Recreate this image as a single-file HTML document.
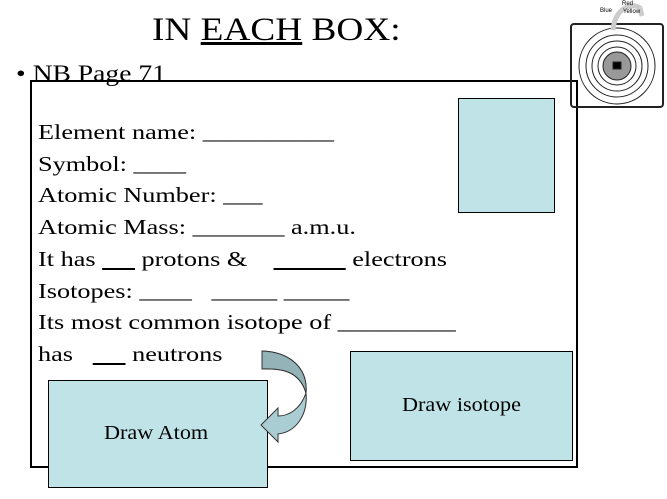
<!DOCTYPE html>
<html><head><style>
body{margin:0;width:667px;height:499px;background:#fff;position:relative;overflow:hidden;font-family:"Liberation Serif",serif;}
.t{position:absolute;white-space:nowrap;color:#000;transform-origin:0 0;}
.b{position:absolute;background:#bfe3e6;border:1px solid #000;box-sizing:border-box;}
</style></head><body>
<div class="t" style="left:152px;top:12px;font-size:33px;transform:scaleX(1.13);">IN <u>EACH</u> BOX:</div>
<div style="position:absolute;left:30px;top:80px;width:548px;height:388px;border:2px solid #000;box-sizing:border-box;"></div>
<div class="t" style="left:16px;top:61px;font-size:23px;transform:scaleX(1.2);">• NB Page 71</div>
<div class="b" style="left:458px;top:98px;width:97px;height:115px;"></div>
<div class="t" style="left:38px;top:117px;font-size:21px;line-height:31.7px;transform:scaleX(1.25);">
Element name: __________<br>Symbol: ____<br>Atomic Number: ___<br>Atomic Mass: _______ a.m.u.<br>It has <u>&nbsp;&nbsp;&nbsp;&nbsp;&nbsp;</u> protons &amp; &nbsp;&nbsp;&nbsp;<u>&nbsp;&nbsp;&nbsp;&nbsp;&nbsp;&nbsp;&nbsp;&nbsp;&nbsp;&nbsp;&nbsp;</u> electrons<br>Isotopes: ____ &nbsp;&nbsp;_____ _____<br>Its most common isotope of _________<br>has &nbsp;&nbsp;<u>&nbsp;&nbsp;&nbsp;&nbsp;&nbsp;</u> neutrons</div>
<div class="b" style="left:350px;top:351px;width:223px;height:110px;"></div>
<div class="t" style="left:402px;top:394px;font-size:20px;transform:scaleX(1.11);">Draw isotope</div>
<div class="b" style="left:48px;top:380px;width:220px;height:108px;"></div>
<div class="t" style="left:104px;top:422px;font-size:20px;transform:scaleX(1.11);">Draw Atom</div>
<svg style="position:absolute;left:0;top:0" width="667" height="499">
<path d="M262,351 C290,352 308,368 306,393 C300,410 288,416 278,416 L278,408 L261,425 L278,442 L278,434 C296,432 308,415 306,393 C300,373 285,368 262,369 Z" fill="#a9cdd2" stroke="#333" stroke-width="1"/>
<path d="M262,351 C290,352 308,368 306,393 C300,373 285,368 262,369 Z" fill="#93b3b8" stroke="#333" stroke-width="1"/>
<g transform="translate(570,22)" fill="none" stroke="#222">
<rect x="1" y="2" width="92" height="83" rx="3" stroke-width="2"/>
<circle cx="47" cy="44" r="38"/><circle cx="47" cy="44" r="31"/><circle cx="47" cy="44" r="25"/><circle cx="47" cy="44" r="19"/>
<circle cx="47" cy="44" r="14" fill="#999"/>
<rect x="43" y="40" width="8" height="7" fill="#000"/>
<path d="M43,8 C45,-14 62,-20 70,-14 L72,-6" stroke="#ccc" stroke-width="5"/>
</g>
<text x="600" y="12" font-size="6" font-family="Liberation Sans">Blue</text>
<text x="622" y="5" font-size="6" font-family="Liberation Sans">Red</text>
<text x="623" y="13" font-size="6" font-family="Liberation Sans">Yellow</text>
</svg>
</body></html>
